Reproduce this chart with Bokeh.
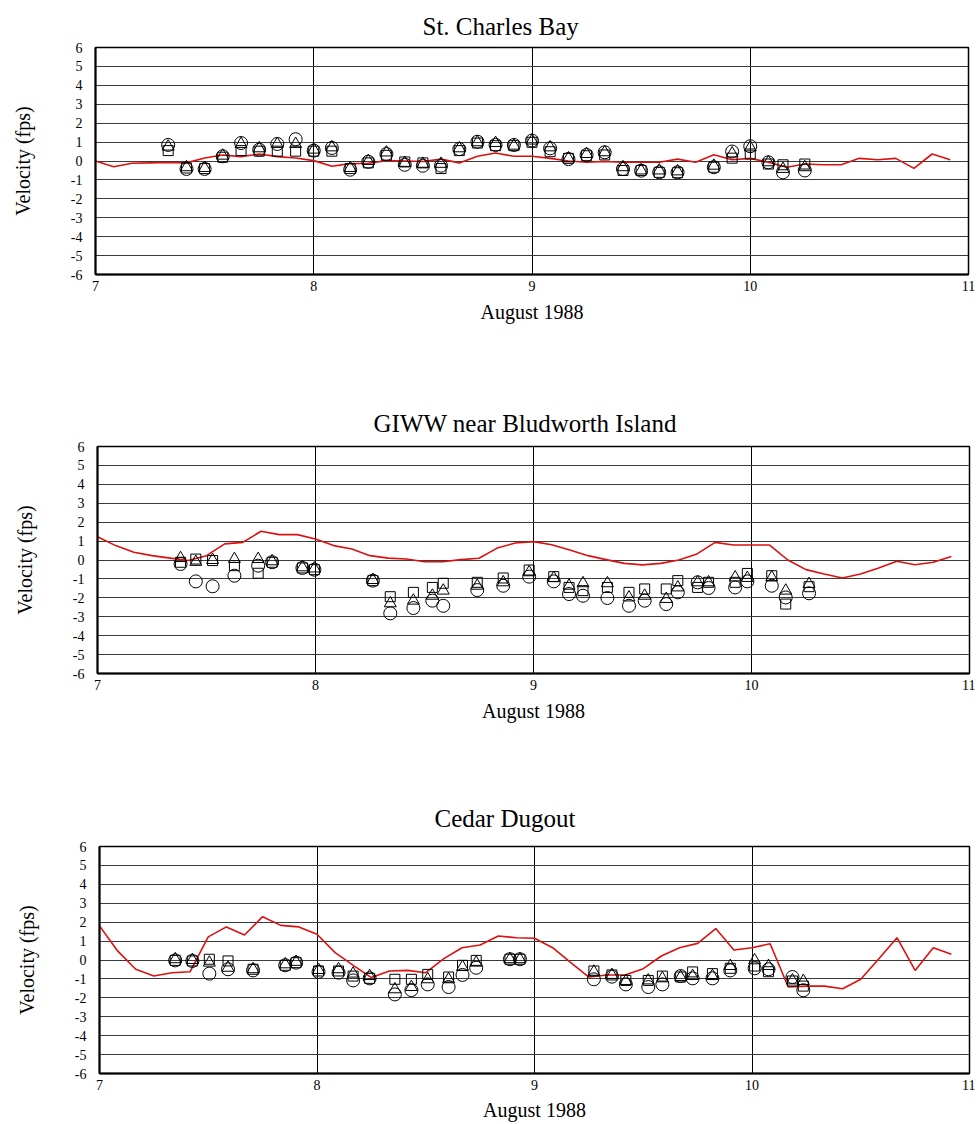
from bokeh.plotting import figure
from bokeh.layouts import column, row
from bokeh.models import Range1d, FixedTicker
from bokeh.embed import file_html
from bokeh.resources import INLINE

# ---------------- data ----------------
titles = ["St. Charles Bay", "GIWW near Bludworth Island", "Cedar Dugout"]
x_ticks = [7, 8, 9, 10, 11]
y_ticks = [-6, -5, -4, -3, -2, -1, 0, 1, 2, 3, 4, 5, 6]
x_label = "August 1988"
y_label = "Velocity (fps)"

# model (red line) sampled every 2 hours from Aug 7 00:00
model_hours = list(range(0, 96, 2))

# --- St. Charles Bay ---
scb_x = [7.333, 7.417, 7.5, 7.583, 7.667, 7.75, 7.833, 7.917, 8.0, 8.083, 8.167, 8.25,
         8.333, 8.417, 8.5, 8.583, 8.667, 8.75, 8.833, 8.917, 9.0, 9.083, 9.167, 9.25,
         9.333, 9.417, 9.5, 9.583, 9.667, 9.833, 9.917, 10.0, 10.083, 10.15, 10.25]
scb_circle = [0.85, -0.42, -0.42, 0.25, 0.95, 0.6, 0.9, 1.15, 0.55, 0.69, -0.46, -0.04,
              0.37, -0.2, -0.25, -0.25, 0.63, 1.02, 0.85, 0.85, 1.08, 0.67, 0.1, 0.32,
              0.46, -0.42, -0.51, -0.6, -0.6, -0.33, 0.5, 0.78, -0.07, -0.6, -0.5]
scb_triangle = [0.76, -0.33, -0.37, 0.28, 0.9, 0.67, 0.9, 0.9, 0.6, 0.72, -0.37, 0.0,
                0.45, -0.1, -0.15, -0.15, 0.67, 0.99, 0.95, 0.81, 1.08, 0.72, 0.14, 0.37,
                0.46, -0.33, -0.5, -0.5, -0.55, -0.25, 0.4, 0.72, -0.07, -0.42, -0.33]
scb_square = [0.55, -0.37, -0.4, 0.2, 0.55, 0.52, 0.52, 0.52, 0.52, 0.52, -0.4, -0.1,
              0.3, -0.05, -0.1, -0.4, 0.55, 0.95, 0.81, 0.81, 0.99, 0.49, 0.14, 0.28,
              0.32, -0.5, -0.5, -0.6, -0.62, -0.33, 0.15, 0.37, -0.16, -0.2, -0.16]
scb_model = [0.0, -0.3, -0.12, -0.1, -0.08, -0.1, 0.16, 0.32, 0.23, 0.37, 0.23, 0.16,
             0.02, -0.28, -0.14, -0.12, 0.02, 0.0, -0.03, 0.1, -0.1, 0.25, 0.42, 0.25,
             0.25, 0.14, 0.0, -0.07, -0.03, -0.07, -0.07, -0.07, 0.1, -0.07, 0.33, 0.07,
             0.14, -0.07, -0.33, -0.16, -0.2, -0.2, 0.14, 0.07, 0.14, -0.39, 0.37, 0.07]

# --- GIWW near Bludworth Island ---
giww_x = [7.381, 7.451, 7.528, 7.628, 7.737, 7.801, 7.94, 7.995, 8.263, 8.343, 8.449,
          8.536, 8.586, 8.742, 8.861, 8.98, 9.093, 9.163, 9.227, 9.339, 9.438, 9.51,
          9.609, 9.662, 9.753, 9.803, 9.925, 9.981, 10.093, 10.157, 10.264]
giww_circle = [-0.21, -1.13, -1.39, -0.83, -0.3, -0.12, -0.42, -0.51, -1.09, -2.82, -2.54,
               -2.15, -2.42, -1.59, -1.36, -0.88, -1.13, -1.8, -1.89, -2.01, -2.42, -2.15,
               -2.33, -1.71, -1.18, -1.48, -1.45, -1.13, -1.36, -1.98, -1.76]
giww_triangle = [0.1, -0.1, 0.0, 0.05, 0.05, -0.07, -0.39, -0.45, -1.06, -2.29, -2.15,
                 -1.89, -1.62, -1.36, -1.18, -0.65, -0.95, -1.36, -1.23, -1.23, -1.98, -1.89,
                 -2.06, -1.45, -1.18, -1.18, -0.92, -0.95, -0.92, -1.62, -1.27]
giww_square = [-0.12, 0.05, -0.03, -0.3, -0.7, -0.12, -0.42, -0.51, -1.09, -1.94, -1.71,
               -1.45, -1.23, -1.18, -0.95, -0.53, -0.88, -1.45, -1.62, -1.45, -1.71, -1.53,
               -1.53, -1.09, -1.45, -1.18, -1.18, -0.71, -0.83, -2.33, -1.41]
giww_model = [1.23, 0.76, 0.41, 0.23, 0.1, -0.03, 0.23, 0.85, 0.93, 1.52, 1.34, 1.34,
              1.11, 0.76, 0.58, 0.23, 0.1, 0.05, -0.09, -0.09, 0.02, 0.09, 0.63, 0.9,
              0.97, 0.81, 0.53, 0.23, 0.02, -0.18, -0.26, -0.18, 0.0, 0.32, 0.93, 0.79,
              0.79, 0.79, 0.0, -0.51, -0.74, -0.95, -0.74, -0.42, -0.07, -0.25, -0.12, 0.19]

# --- Cedar Dugout ---
cd_x = [7.348, 7.427, 7.505, 7.591, 7.706, 7.854, 7.904, 8.007, 8.099, 8.166, 8.242,
        8.358, 8.434, 8.509, 8.605, 8.669, 8.732, 8.887, 8.933, 9.273, 9.356, 9.42,
        9.523, 9.588, 9.672, 9.727, 9.818, 9.9, 10.012, 10.076, 10.186, 10.236]
cd_circle = [-0.02, -0.05, -0.72, -0.49, -0.55, -0.28, -0.14, -0.63, -0.67, -1.08, -0.97,
             -1.82, -1.59, -1.29, -1.43, -0.79, -0.41, 0.04, 0.04, -1.02, -0.88, -1.29,
             -1.43, -1.29, -0.85, -0.97, -0.97, -0.55, -0.44, -0.49, -0.9, -1.6]
cd_triangle = [0.04, 0.0, -0.14, -0.41, -0.49, -0.23, -0.1, -0.53, -0.49, -0.72, -0.85,
               -1.55, -1.43, -1.02, -1.02, -0.37, -0.14, 0.04, 0.04, -0.62, -0.79, -1.11,
               -1.08, -0.97, -0.9, -0.85, -0.85, -0.32, -0.02, -0.32, -1.08, -1.11]
cd_square = [-0.02, -0.05, 0.04, -0.05, -0.49, -0.28, -0.14, -0.58, -0.58, -0.85, -0.97,
             -1.02, -1.02, -0.76, -0.9, -0.28, -0.02, 0.04, 0.04, -0.58, -0.79, -1.08,
             -1.08, -0.85, -0.9, -0.63, -0.72, -0.44, -0.32, -0.62, -1.11, -1.38]
cd_model = [1.8, 0.48, -0.49, -0.85, -0.67, -0.62, 1.22, 1.75, 1.32, 2.29, 1.83, 1.75,
            1.36, 0.39, -0.28, -0.93, -0.58, -0.55, -0.67, 0.07, 0.65, 0.79, 1.27, 1.18,
            1.15, 0.65, -0.14, -0.9, -0.79, -0.79, -0.46, 0.21, 0.65, 0.88, 1.66, 0.53,
            0.65, 0.86, -1.43, -1.38, -1.38, -1.52, -1.02, 0.07, 1.18, -0.55, 0.65, 0.3]

FONT = "Liberation Serif"
RED = "#dd1010"
TOTAL_W = 975


def make_panel(title, ox, oc, ot, osq, model, left, top, bottom, fw,
               title_offset, title_standoff, label_standoff=7):
    p = figure(output_backend="svg", toolbar_location=None,
               frame_width=fw, frame_height=227,
               min_border_left=left, min_border_right=max(TOTAL_W - left - fw, 0),
               min_border_top=top, min_border_bottom=bottom,
               x_range=Range1d(7, 11), y_range=Range1d(-6, 6),
               title=title)
    p.title.text_font = FONT
    p.title.text_font_size = "25px"
    p.title.text_font_style = "normal"
    p.title.align = "left"
    p.title.offset = title_offset
    p.title.standoff = title_standoff
    p.title.text_color = "black"

    p.outline_line_color = "black"
    p.outline_line_width = 1.5
    p.background_fill_color = "white"
    p.border_fill_color = "white"

    for ax in (p.xaxis[0], p.yaxis[0]):
        ax.axis_line_color = "black"
        ax.axis_line_width = 2
        ax.major_tick_line_color = None
        ax.minor_tick_line_color = None
        ax.major_tick_out = 0
        ax.major_tick_in = 0
        ax.minor_tick_out = 0
        ax.minor_tick_in = 0
        ax.major_label_text_font = FONT
        ax.major_label_text_font_size = "14px"
        ax.major_label_text_color = "black"
        ax.axis_label_text_font = FONT
        ax.axis_label_text_font_size = "20px"
        ax.axis_label_text_font_style = "normal"
        ax.axis_label_text_color = "black"

    p.xaxis.ticker = FixedTicker(ticks=x_ticks)
    p.yaxis.ticker = FixedTicker(ticks=y_ticks)
    p.xaxis.major_label_overrides = {t: str(t) for t in x_ticks}
    p.yaxis.major_label_overrides = {t: str(t) for t in y_ticks}
    p.xaxis.axis_label = x_label
    p.yaxis.axis_label = y_label
    p.xaxis.major_label_standoff = 6
    p.xaxis.axis_label_standoff = label_standoff
    p.yaxis.major_label_standoff = 13
    p.yaxis.axis_label_standoff = 34

    p.xgrid.ticker = FixedTicker(ticks=[8, 9, 10])
    p.xgrid.grid_line_color = "black"
    p.xgrid.grid_line_width = 1
    p.ygrid.ticker = FixedTicker(ticks=y_ticks)
    p.ygrid.grid_line_color = "#3a3a3a"
    p.ygrid.grid_line_width = 1.2

    mx = [7 + h / 24 for h in model_hours]
    p.line(mx, model, line_color=RED, line_width=1.6)

    p.scatter(ox, oc, marker="circle", size=13, fill_color=None,
              line_color="black", line_width=1)
    p.scatter(ox, ot, marker="triangle", size=12, fill_color=None,
              line_color="black", line_width=1)
    p.scatter(ox, osq, marker="square", size=10, fill_color=None,
              line_color="black", line_width=1)
    return p


p1 = make_panel(titles[0], scb_x, scb_circle, scb_triangle, scb_square, scb_model,
                left=95, top=47, bottom=121, fw=873,
                title_offset=327, title_standoff=15)
p2 = make_panel(titles[1], giww_x, giww_circle, giww_triangle, giww_square, giww_model,
                left=97, top=51, bottom=111, fw=872,
                title_offset=276, title_standoff=19)
p3 = make_panel(titles[2], cd_x, cd_circle, cd_triangle, cd_square, cd_model,
                left=99, top=62, bottom=50, fw=870,
                title_offset=335, title_standoff=30, label_standoff=6)

layout = column(row(p1), row(p2), row(p3), spacing=0)
open("out.html", "w").write(file_html(layout, INLINE))
